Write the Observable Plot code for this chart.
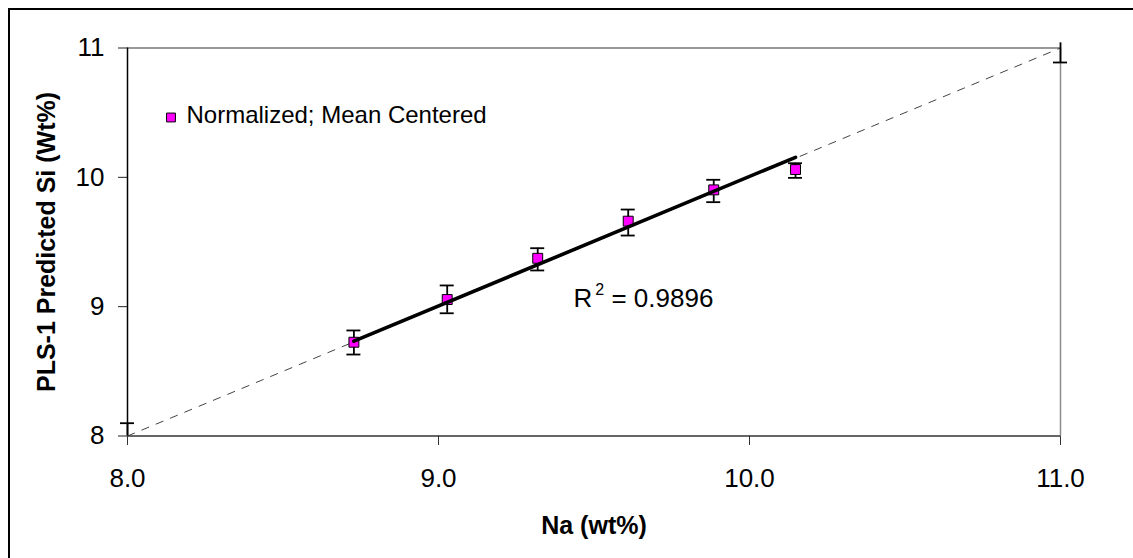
<!DOCTYPE html>
<html>
<head>
<meta charset="utf-8">
<script src="https://cdn.jsdelivr.net/npm/d3@7"></script>
<script src="https://cdn.jsdelivr.net/npm/@observablehq/plot@0.6"></script>
<style>
  html, body { margin: 0; padding: 0; background: #fff; overflow: hidden; width: 1133px; height: 558px; }
  #frame { position: absolute; left: 8px; top: 8px; width: 1200px; height: 640px; border: 2px solid #000; box-sizing: border-box; }
  #chart { position: absolute; left: 0; top: 0; }
</style>
</head>
<body>
<div id="frame"></div>
<div id="chart"></div>
<script>
// Measured Na (x) vs PLS-1 predicted Si (y), with error bar bounds
const naX  = [8.728, 9.028, 9.319, 9.610, 9.885, 10.148];
const siY  = [8.725, 9.055, 9.374, 9.661, 9.903, 10.060];
const siLo = [8.630, 8.949, 9.280, 9.550, 9.808, 9.996];
const siHi = [8.816, 9.164, 9.452, 9.751, 9.981, 10.109];

// Trend line endpoints (as drawn)
const trendX = [8.728, 10.148];
const trendY = [8.733, 10.155];

// 1:1 reference series and its (partially visible) error bars
const refX   = [8, 11];
const refY   = [8, 11];
const refLo  = [8.0, 10.888];
const refHi  = [8.099, 11.04];
const refCap = [8.099, 10.888];

const xTicks = [8, 9, 10, 11];
const yTicks = [8, 9, 10, 11];

const seriesName = "Normalized; Mean Centered";
const r2Base = "R";
const r2Sup = "2";
const r2Value = " = 0.9896";
const xTitle = "Na (wt%)";
const yTitle = "PLS-1 Predicted Si (Wt%)";

const pts = naX.map((x, i) => ({x, y: siY[i], lo: siLo[i], hi: siHi[i]}));
const trend = trendX.map((x, i) => ({x, y: trendY[i]}));
const ref = refX.map((x, i) => ({x, y: refY[i], lo: refLo[i], hi: refHi[i], cap: refCap[i]}));

const font = "'Liberation Sans', Arial, sans-serif";

const chart = Plot.plot({
  width: 1133,
  height: 558,
  marginLeft: 127,
  marginRight: 73,
  marginTop: 47.5,
  marginBottom: 122.5,
  style: {fontFamily: font, fontSize: "26px", color: "#000", background: "transparent"},
  x: {domain: [8, 11]},
  y: {domain: [8, 11]},
  marks: [
    // plot area borders
    Plot.ruleY([11], {stroke: "#999", strokeWidth: 2}),
    Plot.ruleX([11], {stroke: "#8c8c8c", strokeWidth: 1.5}),
    // 1:1 dashed line
    Plot.line(ref, {x: "x", y: "y", stroke: "#444", strokeWidth: 1, strokeDasharray: "7.5,8"}),
    // error bars
    Plot.ruleX(pts, {x: "x", y1: "lo", y2: "hi", stroke: "#000", strokeWidth: 1.8}),
    Plot.ruleY(pts, {y: "lo", x1: "x", x2: "x", insetLeft: -7, insetRight: -7, stroke: "#000", strokeWidth: 1.8}),
    Plot.ruleY(pts, {y: "hi", x1: "x", x2: "x", insetLeft: -7, insetRight: -7, stroke: "#000", strokeWidth: 1.8}),
    Plot.ruleX(ref, {x: "x", y1: "lo", y2: "hi", stroke: "#000", strokeWidth: 1.8}),
    Plot.ruleY(ref, {y: "cap", x1: "x", x2: "x", insetLeft: -7, insetRight: -7, stroke: "#000", strokeWidth: 1.8}),
    // points
    Plot.dot(pts, {x: "x", y: "y", symbol: "square", r: 5.6, fill: "#ff00ff", stroke: "#000", strokeWidth: 1}),
    // trend line
    Plot.line(trend, {x: "x", y: "y", stroke: "#000", strokeWidth: 3.6}),
    // axes
    Plot.axisX({ticks: xTicks, tickFormat: d3.format(".1f"), tickSize: 9.5, tickPadding: 23, label: null, fontSize: 26, stroke: "#333"}),
    Plot.axisY({ticks: yTicks, tickFormat: d3.format("d"), tickSize: 9, tickPadding: 14, label: null, fontSize: 26, stroke: "#222"}),
    Plot.ruleX([8], {stroke: "#000", strokeWidth: 1.5}),
    Plot.ruleY([8], {stroke: "#333", strokeWidth: 1.5}),
    // legend
    Plot.dot([seriesName], {frameAnchor: "top-left", dx: 43.5, dy: 69.5, symbol: "square", r: 5, fill: "#ff00ff", stroke: "#000", strokeWidth: 1}),
    Plot.text([seriesName], {frameAnchor: "top-left", dx: 59, dy: 67, text: d => d, textAnchor: "start", lineAnchor: "middle", fontSize: 24, fill: "#000"}),
    // R^2 annotation (superscript added below)
    Plot.text([r2Base], {frameAnchor: "top-left", dx: 446, dy: 251, text: d => d, textAnchor: "start", lineAnchor: "middle", fontSize: 26, fill: "#000", className: "r2"}),
    // axis titles
    Plot.text([xTitle], {frameAnchor: "bottom", dy: 90, text: d => d, textAnchor: "middle", lineAnchor: "middle", fontSize: 25, fontWeight: "bold", fill: "#000"}),
    Plot.text([yTitle], {frameAnchor: "left", dx: -81, rotate: -90, text: d => d, textAnchor: "middle", lineAnchor: "middle", fontSize: 25, fontWeight: "bold", fill: "#000"})
  ]
});

// turn the R annotation into R² with a real superscript
d3.select(chart).selectAll("g.r2 text").each(function() {
  const t = d3.select(this);
  t.append("tspan").attr("font-size", 16).attr("dy", -12).attr("dx", 3).text(r2Sup);
  t.append("tspan").attr("dy", 12).attr("font-size", 26).text(r2Value);
});

document.getElementById("chart").appendChild(chart);
</script>
</body>
</html>
